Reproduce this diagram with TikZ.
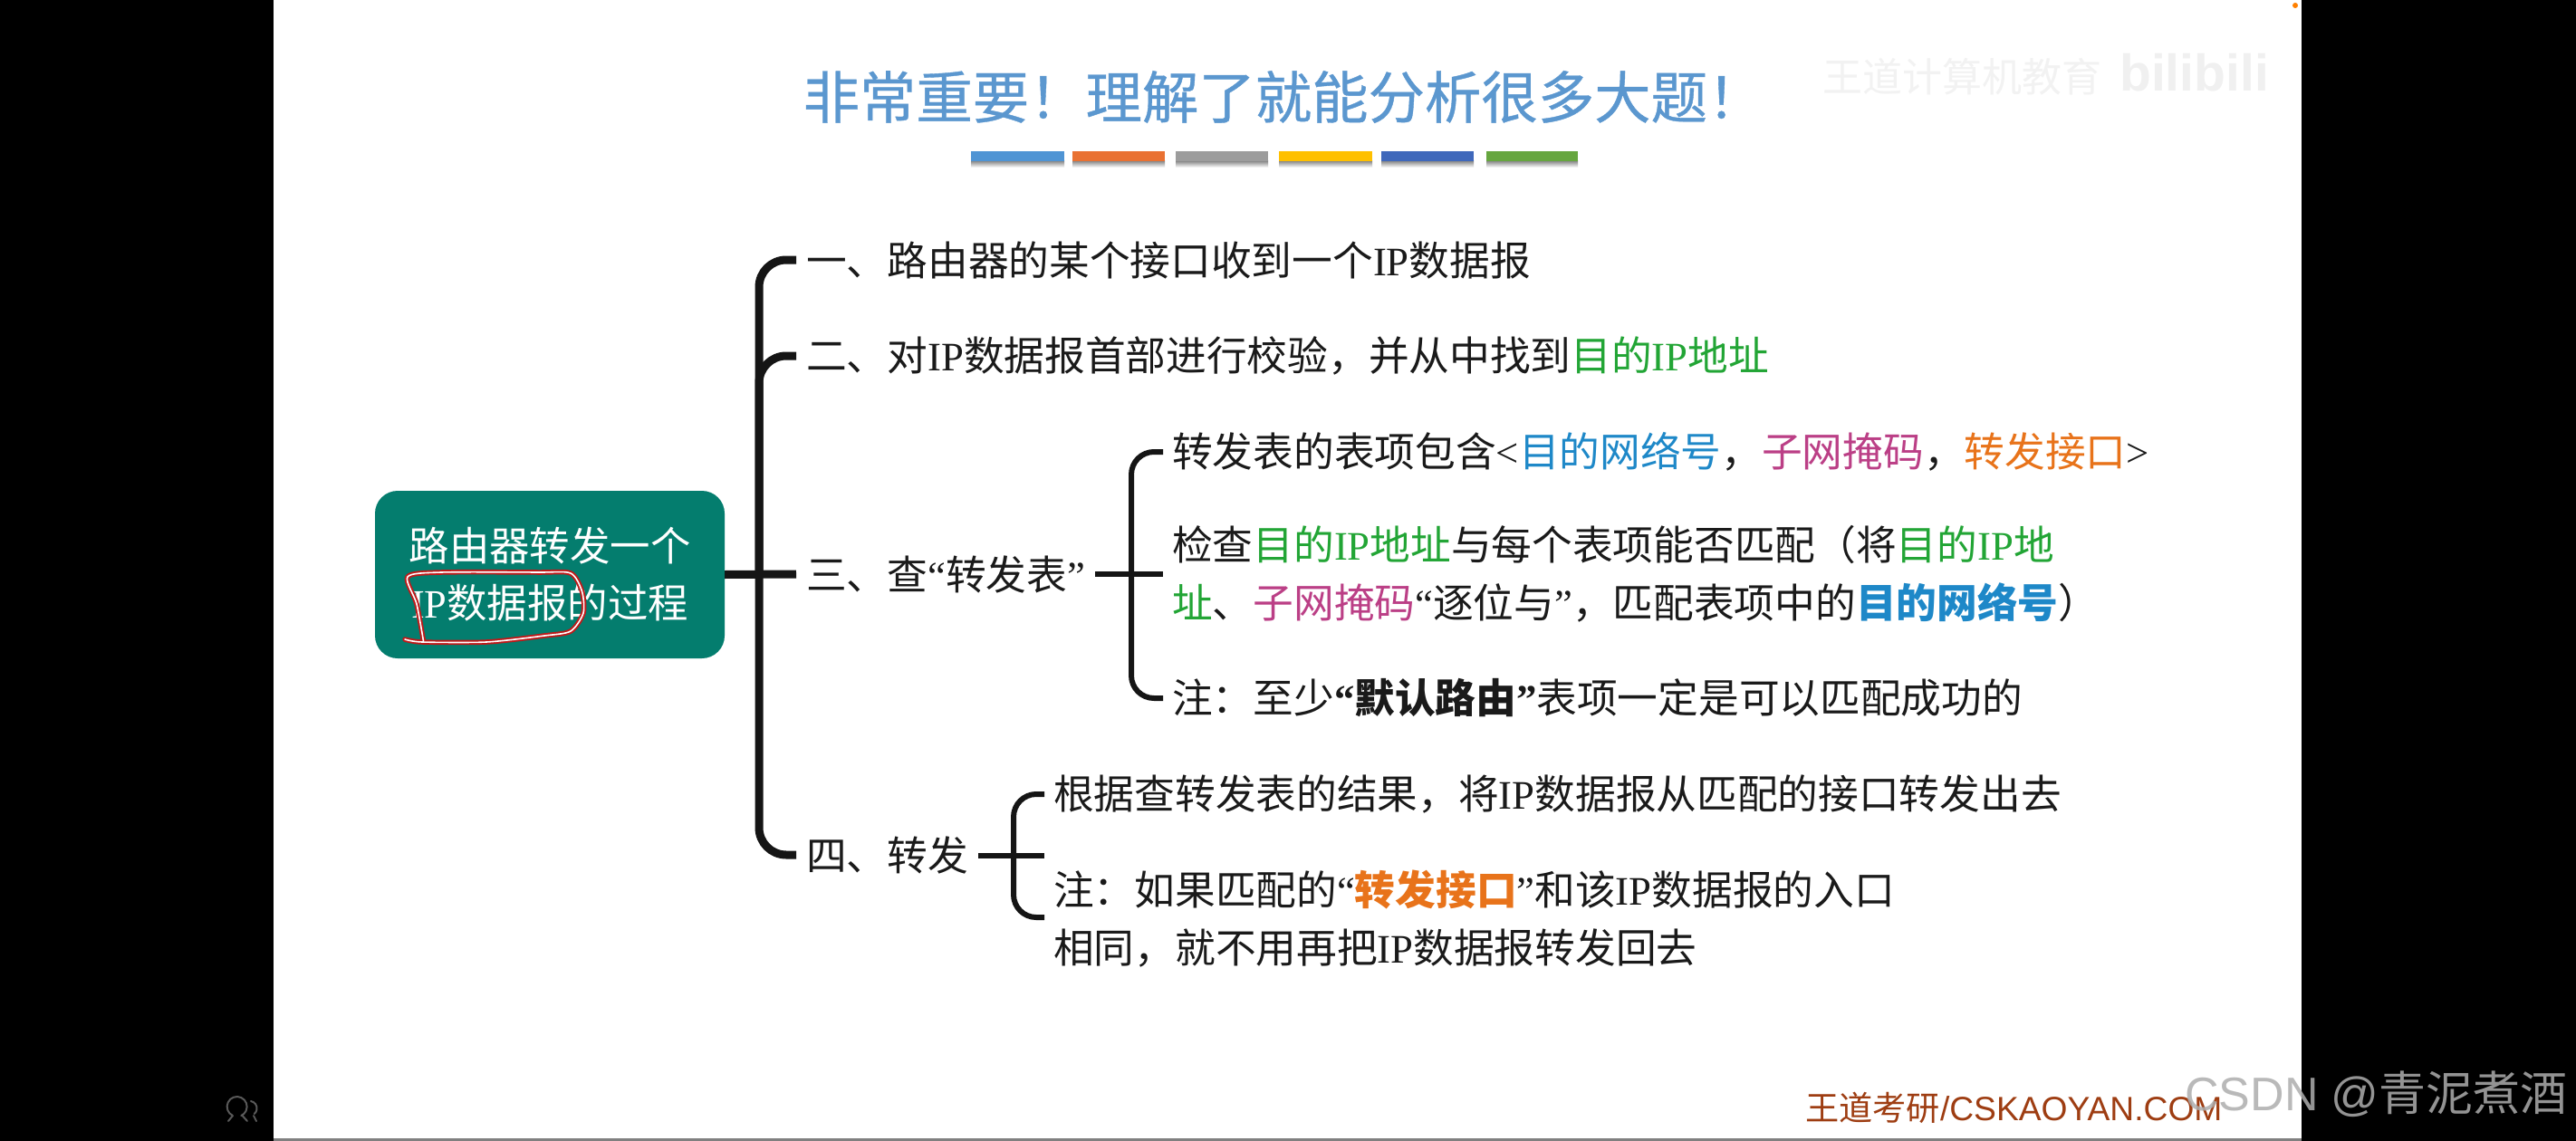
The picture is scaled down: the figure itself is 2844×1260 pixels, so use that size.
\documentclass[tikz,border=0pt]{standalone}
\usepackage{fontspec}
\setmainfont{Noto Sans CJK SC}
\newfontfamily\enf{Liberation Serif}
\newfontfamily\ars{Liberation Sans}
\newfontfamily\ttlf[FakeBold=0.6]{Noto Sans CJK SC}
\newcommand{\en}[1]{{\enf #1}}
\definecolor{gr}{HTML}{22A535}
\definecolor{bl}{HTML}{1E88C8}
\definecolor{mg}{HTML}{BB3F86}
\definecolor{og}{HTML}{E8731A}
\definecolor{ttl}{HTML}{5B97CF}
\definecolor{teal}{HTML}{047D6E}
\definecolor{ln}{HTML}{151515}
\definecolor{tx}{HTML}{1A1A1A}
\definecolor{foot}{HTML}{9E3D12}
\definecolor{pen}{HTML}{BE1A1A}
\tikzset{
 body/.style={inner ysep=0pt,inner xsep=#1,anchor=west,align=left,text=tx,font=\fontsize{44.7}{64}\selectfont},
 body/.default=10pt,
 maina/.style={draw=ln,line width=9pt,rounded corners=30pt},
 subb/.style={draw=ln,line width=6pt,rounded corners=25pt},
 barr/.style={minimum width=102pt,minimum height=11pt,inner sep=0pt,anchor=north west,draw=none},
}
\begin{document}
\begin{tikzpicture}[x=1pt,y=-1pt]
\useasboundingbox (0,0) rectangle (2844,1260);
\fill[black] (0,0) rectangle (2844,1260);
\fill[white] (302,0) rectangle (2541,1258);
\fill[gray] (302,1256.5) rectangle (2541,1260);
\fill[orange] (2534,6) circle (3pt);
% title
\node[font=\ttlf\fontsize{62.4}{66}\selectfont,text=ttl,inner sep=0pt] (title) at (1417,107) {非常重要！理解了就能分析很多大题！};
\node[font=\fontsize{44}{46}\selectfont,text=black!5,inner sep=0pt,anchor=west] (wm) at (2012,85) {王道计算机教育};
\node[font=\ars\bfseries\fontsize{57}{60}\selectfont,text=black!6,inner sep=0pt,anchor=west] (wmb) at (2340,80) {bilibili};
% bars
\foreach \n/\x/\w/\c in {a/1072/103/4F94D4,b/1184/102/E97132,c/1298/102/9C9C9C,d/1412/103/FFC000,e/1525/102/3F68BB,f/1641/101/66A63F}{
  \definecolor{tmpc}{HTML}{\c}
  \shade[top color=black!45,bottom color=white] (\x,178) rectangle (\x+\w,185);
  \node[barr,fill=tmpc,minimum width=\w pt] (bar\n) at (\x,167) {};
}
% root
\node[fill=teal,rounded corners=25pt,minimum width=386pt,minimum height=185pt,inner sep=0pt,text=white,align=center,font=\fontsize{44.4}{63}\selectfont] (root) at (607,634.5) {路由器转发一个\\\en{IP}数据报的过程};
% first level
\node[body=11pt] (t1) at (879,287) {一、路由器的某个接口收到一个\en{IP}数据报};
\node[body=11pt] (t2) at (879,393) {二、对\en{IP}数据报首部进行校验，并从中找到\textcolor{gr}{目的\en{IP}地址}};
\node[body=11pt] (t3) at (879,634) {三、查\en{“}转发表\en{”}};
\node[body=11pt] (t4) at (879,944) {四、转发};
% third branch
\node[body] (s1) at (1284,499) {转发表的表项包含\en{<}\textcolor{bl}{目的网络号}，\textcolor{mg}{子网掩码}，\textcolor{og}{转发接口}\en{>}};
\node[body] (s2) at (1284,634) {检查\textcolor{gr}{目的\en{IP}地址}与每个表项能否匹配（将\textcolor{gr}{目的\en{IP}地}\\\textcolor{gr}{址}、\textcolor{mg}{子网掩码}\en{“}逐位与\en{”}，匹配表项中的\textcolor{bl}{\bfseries 目的网络号}）};
\node[body] (s3) at (1284,771) {注：至少\textbf{\en{“}默认路由\en{”}}表项一定是可以匹配成功的};
% fourth branch
\node[body] (f1) at (1153,877) {根据查转发表的结果，将\en{IP}数据报从匹配的接口转发出去};
\node[body] (f2) at (1153,1015) {注：如果匹配的\en{“}\textcolor{og}{\bfseries 转发接口}\en{”}和该\en{IP}数据报的入口\\相同，就不用再把\en{IP}数据报转发回去};
% junctions
\coordinate (trunk) at (838,634);
\coordinate (subt) at (1249,634);
\coordinate (fourt) at (1119,945);
\coordinate (fourend) at (1153,945);
\coordinate (fourbot) at (1153,1013);
% connectors
\draw[maina] (t1.west) -| (trunk) |- (t4.west);
\draw[maina] (t2.west) -| (trunk);
\draw[maina] (root.east) -- (t3.west);
\draw[subb] (s1.west) -| (subt) |- (s3.west);
\draw[subb] (t3.east) -- (s2.west);
\draw[subb] (f1.west) -| (fourt) |- (fourbot);
\draw[subb] (t4.east |- fourend) -- (fourend);
% pen annotation
\draw[pen,line width=5.5pt,line join=round,line cap=round] plot[smooth,tension=.45] coordinates {(447,706) (466,709) (537,709) (601,702) (630,697) (644,677) (642.5,653) (630,633) (594,632) (487,632) (450,637) (460,667) (467.5,708)};
\draw[white,line width=1.6pt,line join=round,line cap=round] plot[smooth,tension=.45] coordinates {(447,706) (466,709) (537,709) (601,702) (630,697) (644,677) (642.5,653) (630,633) (594,632) (487,632) (450,637) (460,667) (467.5,708)};
% footer
\node[inner sep=0pt,anchor=west,text=foot,font=\ars\fontsize{37.2}{40}\selectfont] (foot) at (1993,1223) {{\rmfamily 王道考研}/CSKAOYAN.COM};
\node[inner sep=0pt,anchor=west,text=black!32,opacity=.85,font=\ars\fontsize{52}{54}\selectfont] (csdn) at (2412,1208) {CSDN @{\rmfamily 青泥煮酒}};
% icon
\draw[black!65,line width=2pt,line cap=round] (257,1232) arc (245:-65:11pt) (257,1232) -- (252,1238) (267.6,1232) -- (273,1238);
\draw[black!65,line width=2pt,line cap=round] (277,1216) arc (80:-50:8pt) (280,1232) -- (283,1238);
\end{tikzpicture}
\end{document}
